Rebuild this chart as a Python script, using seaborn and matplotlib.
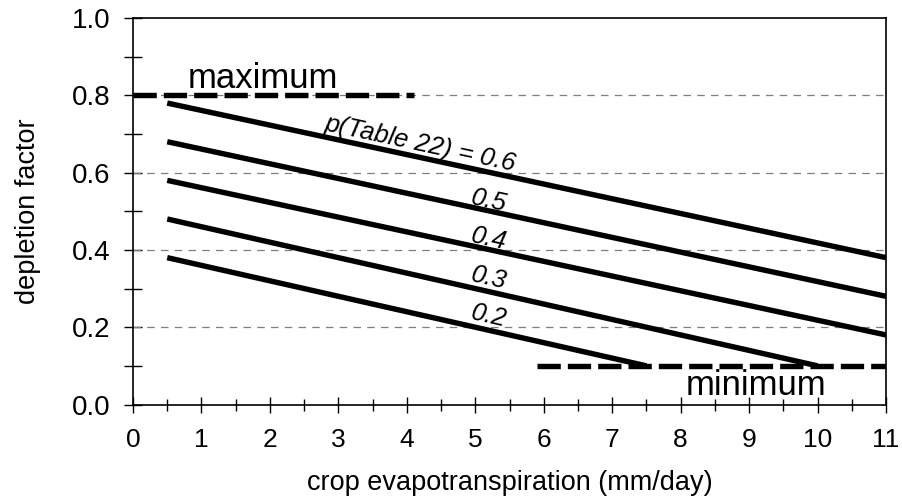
import numpy as np
import pandas as pd
import matplotlib
matplotlib.use("Agg")
import matplotlib.pyplot as plt
import seaborn as sns

# p values from Table 22 and the end points of each adjusted depletion line
p_table = [0.6, 0.5, 0.4, 0.3, 0.2]
et_start = [0.5, 0.5, 0.5, 0.5, 0.5]
p_start = [0.78, 0.68, 0.58, 0.48, 0.38]
et_end = [11.0, 11.0, 11.0, 10.0, 7.5]
p_end = [0.38, 0.28, 0.18, 0.10, 0.10]

# upper and lower limits of the depletion factor
max_et = [0.0, 4.1]
max_p = [0.8, 0.8]
min_et = [5.9, 11.0]
min_p = [0.1, 0.1]

x_ticks = list(range(0, 12))
y_ticks = [0.0, 0.2, 0.4, 0.6, 0.8, 1.0]

sns.set_theme(style="white")
plt.rcParams["font.family"] = ["Liberation Sans", "DejaVu Sans"]
plt.rcParams["text.color"] = "black"
plt.rcParams["axes.labelcolor"] = "black"
plt.rcParams["xtick.color"] = "black"
plt.rcParams["ytick.color"] = "black"

fig = plt.figure(figsize=(9.03, 5.01), dpi=100)
ax = fig.add_axes([0.1473, 0.1926, 0.9812 - 0.1473, 0.964 - 0.1926])

ax.set_xlim(0, 11)
ax.set_ylim(0, 1.0)

# dashed grid at the major y ticks
for yv in y_ticks[1:-1]:
    ax.axhline(yv, color="#7f7f7f", lw=0.9, dashes=(6, 5), zorder=1)

lines = pd.DataFrame({
    "et": et_start + et_end,
    "p": p_start + p_end,
    "curve": [str(v) for v in p_table] * 2,
})
sns.lineplot(data=lines, x="et", y="p", units="curve", estimator=None,
             color="black", lw=3.9, ax=ax, zorder=3,
             solid_capstyle="butt")

limits = pd.DataFrame({
    "et": max_et + min_et,
    "p": max_p + min_p,
    "kind": ["maximum"] * 2 + ["minimum"] * 2,
})
sns.lineplot(data=limits, x="et", y="p", units="kind", estimator=None,
             color="black", lw=3.9, ax=ax, zorder=4,
             dashes=(4.3, 1.3), dash_capstyle="butt")

ax.text(1.9, 0.82, "maximum", fontsize=25, ha="center", va="baseline")
ax.text(9.1, 0.025, "minimum", fontsize=25, ha="center", va="baseline")

# curve labels rotated along each line
fig.canvas.draw()
label_pos = [(4.2, 0.675), (5.2, 0.528), (5.2, 0.428), (5.2, 0.328), (5.2, 0.228)]
for pv, (lx, ly), x0, y0, x1, y1 in zip(p_table, label_pos, et_start, p_start, et_end, p_end):
    d0 = ax.transData.transform((x0, y0))
    d1 = ax.transData.transform((x1, y1))
    ang = np.degrees(np.arctan2(d1[1] - d0[1], d1[0] - d0[0]))
    txt = f"p(Table 22) = {pv}" if pv == p_table[0] else f"{pv}"
    ax.text(lx, ly, txt, fontsize=18.5, style="italic", ha="center", va="center",
            rotation=ang, rotation_mode="anchor", zorder=5)

ax.set_xticks(x_ticks)
ax.set_xticks(np.arange(0.5, 11, 1.0), minor=True)
ax.set_yticks(y_ticks)
ax.set_yticklabels([f"{v:.1f}" for v in y_ticks])
ax.set_yticks(np.arange(0.1, 1.0, 0.2), minor=True)

ax.tick_params(axis="x", which="major", direction="inout", length=12, width=1,
               labelsize=19, pad=11, bottom=True)
ax.tick_params(axis="x", which="minor", direction="inout", length=8, width=1,
               bottom=True)
ax.tick_params(axis="y", which="major", direction="inout", length=13, width=1,
               labelsize=20, pad=10, left=True)
ax.tick_params(axis="y", which="minor", direction="inout", length=13, width=1,
               left=True)

for side in ["left", "bottom", "right", "top"]:
    ax.spines[side].set_visible(True)
    ax.spines[side].set_color("black")
    ax.spines[side].set_linewidth(1.2)

ax.set_xlabel("crop evapotranspiration (mm/day)", fontsize=19.5, labelpad=13)
ax.set_ylabel("depletion factor", fontsize=19.5, labelpad=22)

fig.savefig("out.png", dpi=100)
